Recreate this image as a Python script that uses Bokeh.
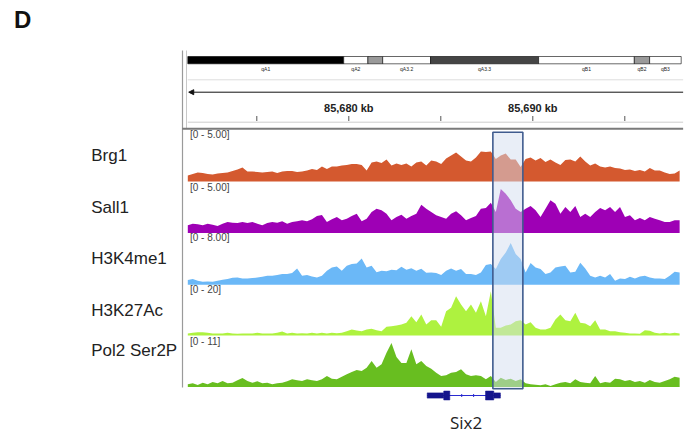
import numpy as np
from bokeh.plotting import figure
from bokeh.models import Range1d, Arrow, NormalHead
from bokeh.embed import file_html
from bokeh.resources import INLINE
from bokeh.core.properties import value

# ---------------- data ----------------
PANEL_LABEL = "D"
REGION_START = 85671.25          # kb, left edge of the data panel
REGION_END = 85698.07            # kb, right edge of the data panel
BIN_START = 85671.25
BIN_STEP = 0.27                  # kb per bin

track_names = ["Brg1", "Sall1", "H3K4me1", "H3K27Ac", "Pol2 Ser2P"]
track_max = [5.0, 5.0, 8.0, 20.0, 11.0]
track_colors = ["#D4592F", "#9E00B5", "#6BB8F7", "#AEF23F", "#68BE20"]

brg1 = [0.6, 0.75, 0.9, 0.85, 0.75, 0.7, 0.8, 0.85, 0.9, 1.05, 1.2, 1.4, 1.0, 1.0, 0.95, 0.9, 0.95, 1.0, 0.85, 1.0,
        1.05, 1.05, 0.95, 1.0, 1.1, 1.25, 1.15, 1.5, 1.25, 1.5, 1.5, 1.6, 1.65, 1.75, 1.75, 1.65, 1.1, 1.9, 2.0, 1.85,
        2.2, 1.6, 1.8, 1.65, 1.8, 1.5, 1.9, 2.0, 1.6, 2.1,
        2.0, 1.75, 2.3, 2.6, 2.9, 2.5, 2.1, 2.0, 2.4, 3.0, 2.95, 3.0, 2.25, 2.6, 2.8, 2.2, 2.2, 1.45, 2.25, 2.4,
        2.1, 2.35, 1.95, 2.2, 1.9, 1.65, 2.15, 2.2, 2.0, 2.5, 2.0, 1.6, 1.8, 1.5, 1.4, 1.5, 1.35, 1.3, 1.15, 1.2,
        1.05, 1.15, 1.0, 1.35, 1.1, 1.1, 0.9, 0.75, 0.8, 1.1]

sall1 = [0.77, 0.93, 0.87, 0.77, 0.93, 0.83, 0.7, 0.93, 1.1, 1.03, 1.0, 1.1, 1.0, 1.1, 0.93, 0.77, 1.0, 1.1, 1.03, 1.17,
         0.93, 1.1, 1.17, 1.27, 1.17, 1.37, 1.7, 1.8, 1.1, 1.37, 1.6, 1.27, 1.43, 1.7, 1.93, 1.17, 1.43, 2.1, 2.43, 2.27,
         1.93, 1.27, 1.6, 1.83, 1.43, 1.7, 1.93, 2.83, 2.43, 2.1,
         1.77, 1.6, 1.43, 1.93, 2.17, 1.77, 1.27, 1.5, 1.7, 2.43, 2.5, 3.03, 2.1, 4.4, 3.93, 3.27, 2.43, 2.1, 2.43, 2.7,
         2.27, 1.6, 2.43, 3.27, 2.93, 1.93, 2.6, 2.1, 2.7, 1.6, 1.93, 1.6, 2.1, 2.5, 2.27, 2.6, 2.1, 2.6, 1.6, 1.77,
         1.27, 1.5, 1.27, 1.6, 1.43, 1.27, 1.1, 1.1, 1.27, 1.27]

h3k4me1 = [0.75, 0.91, 0.64, 0.48, 0.53, 0.48, 0.64, 0.8, 0.91, 1.12, 1.17, 1.01, 1.01, 1.07, 1.17, 1.28, 1.44, 1.44, 1.55, 1.71,
           1.71, 1.87, 2.61, 1.44, 1.55, 1.33, 1.17, 1.44, 2.24, 2.77, 2.93, 2.24, 3.04, 3.31, 3.4, 4.2, 2.77, 3.04, 2.0, 2.24,
           2.16, 2.4, 2.32, 2.88, 2.4, 2.64, 2.24, 2.56, 1.92, 1.97,
           1.87, 1.55, 2.24, 2.61, 2.24, 2.51, 1.71, 1.71, 1.55, 1.97, 3.15, 3.31, 2.51, 4.11, 5.17, 6.67, 4.91, 4.11, 1.97, 3.47,
           2.77, 2.51, 1.71, 1.97, 2.77, 2.93, 3.04, 1.97, 2.08, 3.52, 2.61, 1.44, 1.17, 1.44, 1.17, 1.71, 0.64, 1.01, 0.91, 1.28,
           1.01, 1.33, 1.44, 1.17, 1.01, 1.01, 0.91, 1.44, 2.08, 1.97]

h3k27ac = [0.8, 1.08, 1.32, 1.32, 1.08, 0.8, 0.8, 0.8, 1.08, 0.8, 0.68, 0.8, 0.8, 0.8, 1.08, 0.8, 0.8, 0.8, 1.08, 1.6,
           0.8, 1.08, 0.8, 0.92, 0.8, 1.08, 0.8, 1.08, 0.8, 1.08, 0.92, 1.08, 1.72, 2.4, 2.0, 1.72, 2.4, 2.68, 2.12, 1.72,
           3.48, 3.72, 4.0, 4.4, 5.08, 7.72, 5.32, 8.4, 4.4, 6.12,
           6.12, 3.48, 9.72, 11.08, 15.72, 12.4, 9.72, 12.4, 9.08, 13.72, 7.72, 17.72, 3.08, 3.08, 4.0, 4.4, 5.72, 6.12, 4.4, 5.32,
           3.08, 2.4, 2.4, 3.08, 6.4, 8.4, 6.12, 5.72, 9.08, 5.08, 4.8, 3.72, 6.12, 2.4, 2.4, 1.72, 1.72, 1.32, 1.08, 0.8,
           0.8, 0.68, 2.12, 1.88, 1.08, 0.8, 1.08, 0.8, 1.08, 0.8]

pol2_ser2p = [0.59, 0.81, 0.44, 0.95, 0.59, 1.1, 0.81, 1.32, 0.81, 0.95, 1.47, 1.98, 1.32, 0.95, 1.25, 0.81, 0.95, 0.59, 0.81, 0.95,
              1.25, 1.69, 1.47, 1.32, 1.69, 1.47, 1.32, 1.69, 2.42, 1.83, 1.69, 2.27, 2.79, 3.3, 3.74, 3.52, 4.25, 5.72, 4.25, 4.99,
              7.55, 9.68, 6.6, 5.28, 5.28, 8.29, 4.99, 5.72, 4.62, 4.0,
              3.15, 2.42, 2.57, 3.15, 3.3, 3.89, 2.79, 2.42, 2.57, 2.42, 1.69, 2.42, 1.1, 2.05, 1.54, 1.83, 1.32, 1.69, 0.81, 0.59,
              0.51, 0.37, 0.59, 0.22, 0.59, 0.95, 1.1, 0.81, 1.69, 1.1, 0.95, 0.81, 2.42, 0.81, 1.1, 0.95, 1.83, 1.69, 1.32, 1.54,
              1.1, 1.32, 0.95, 1.54, 1.1, 0.95, 1.32, 1.69, 2.27, 2.05]

track_values = [brg1, sall1, h3k4me1, h3k27ac, pol2_ser2p]

ruler_ticks = [85675, 85680, 85685, 85690, 85695]   # kb
ruler_labels = [85680, 85690]                       # kb

highlight_start, highlight_end = 85687.83, 85689.46  # kb

gene_name = "Six2"
gene_start, gene_end = 85684.26, 85688.24
utr_starts = [85684.26, 85687.88]
utr_ends = [85685.16, 85688.24]
cds_starts = [85685.16, 85687.43]
cds_ends = [85685.49, 85687.88]

# chromosome ideogram (percent of the displayed band strip)
band_names = ["qA1", "qA2", "", "qA3.2", "qA3.3", "qB1", "qB2", "qB3"]
band_starts = [0.0, 31.6, 36.5, 39.5, 49.2, 71.1, 90.5, 93.6]
band_ends = [31.6, 36.5, 39.5, 49.2, 71.1, 90.5, 93.6, 100.0]
band_colors = ["#000000", "#ffffff", "#9a9a9a", "#ffffff", "#454545", "#ffffff", "#9a9a9a", "#ffffff"]

# ---------------- layout (picture pixels) ----------------
W, H = 688, 436
OFF = 0                      # canvas origin in the picture
PX_PER_KB = 18.4
KB_AT = (85680, 348.3)       # kb value and its picture x
PANEL_L, PANEL_R = 187.3, 680.7
TRACK_BASE = [181.0, 232.5, 284.3, 335.0, 386.5]
TRACK_H = 50.0
LABEL_MID = [155.3, 206.7, 258.3, 310.0, 350.0]
RANGE_TOP = [128.2, 181.2, 231.8, 283.8, 335.6]

x0 = KB_AT[0] - (KB_AT[1] - OFF) / PX_PER_KB
p = figure(width=W, height=H, title=None,
           x_range=Range1d(x0, x0 + W / PX_PER_KB),
           y_range=Range1d(OFF + H, OFF),
           output_backend="svg", toolbar_location=None,
           x_axis_location=None, y_axis_location=None,
           min_border=0, outline_line_color=None)
p.background_fill_color = "white"
p.border_fill_color = "white"
p.xgrid.visible = False
p.ygrid.visible = False

p.extra_x_ranges = {
    "px": Range1d(OFF, OFF + W),
    "ideo": Range1d((OFF - PANEL_L) / (PANEL_R - PANEL_L) * 100,
                    (OFF + W - PANEL_L) / (PANEL_R - PANEL_L) * 100),
}
for i, (b, m) in enumerate(zip(TRACK_BASE, track_max)):
    p.extra_y_ranges[f"t{i}"] = Range1d((b - (OFF + H)) * m / TRACK_H, (b - OFF) * m / TRACK_H)

# panel letter
p.text(x=[13.5], y=[19.0], text=[PANEL_LABEL], x_range_name="px",
       text_font=value("Liberation Sans"), text_font_style="bold",
       text_font_size="24px", text_color="#111111", text_baseline="middle")

# left border lines
p.segment(x0=[182.0], x1=[182.0], y0=[50], y1=[387], x_range_name="px",
          line_color="#9a9a9a", line_width=1.2)
p.segment(x0=[186.0], x1=[186.0], y0=[50], y1=[128], x_range_name="px",
          line_color="#c8c8c8", line_width=1)

# ideogram
p.quad(left=band_starts, right=band_ends, top=[56.0] * len(band_starts), bottom=[63.3] * len(band_starts),
       x_range_name="ideo", fill_color=band_colors, line_color="#000000", line_width=0.6)
mids = [(a + b) / 2 for a, b in zip(band_starts, band_ends)]
p.text(x=mids, y=[68.0] * len(mids), text=band_names, x_range_name="ideo",
       text_font=value("Liberation Sans"), text_font_size="5px", text_color="#222222",
       text_align="center", text_baseline="middle")

# ruler
RIGHT = REGION_END + 0.1
p.segment(x0=[REGION_START], x1=[RIGHT], y0=[79.3], y1=[79.3], line_color="#dddddd", line_width=1)
p.add_layout(Arrow(end=NormalHead(size=5, fill_color="#111111", line_color="#111111"),
                   x_start=RIGHT, y_start=91.7, x_end=REGION_START + 0.05, y_end=91.7,
                   line_color="#111111", line_width=1))
p.text(x=ruler_labels, y=[107.7] * len(ruler_labels), text=[f"{v:,} kb" for v in ruler_labels],
       text_font=value("Liberation Sans"), text_font_style="bold", text_font_size="11px",
       text_color="#222222", text_align="center", text_baseline="middle")
p.segment(x0=ruler_ticks, x1=ruler_ticks, y0=[115.5] * len(ruler_ticks), y1=[120.5] * len(ruler_ticks),
          line_color="#555555", line_width=1)
p.segment(x0=[REGION_START], x1=[RIGHT], y0=[121.7], y1=[121.7], line_color="#cccccc", line_width=1)
p.segment(x0=[REGION_START - 0.3], x1=[RIGHT], y0=[128.3], y1=[128.3], line_color="#7a7a7a", line_width=2)

# tracks
xs = [BIN_START + BIN_STEP * i for i in range(len(brg1))]
for i, (vals, col) in enumerate(zip(track_values, track_colors)):
    p.varea(x=xs, y1=[0] * len(xs), y2=vals, y_range_name=f"t{i}", fill_color=col)

# data-range labels
p.text(x=[189.5] * 5, y=RANGE_TOP, text=[f"[0 - {m:.2f}]" if m < 10 else f"[0 - {m:.0f}]" for m in track_max],
       x_range_name="px", text_font=value("Liberation Sans"), text_font_size="10px",
       text_color="#444444", text_baseline="top")

# track names
p.text(x=[90.7] * 5, y=LABEL_MID, text=track_names, x_range_name="px",
       text_font=value("Liberation Sans"), text_font_size="17px", text_color="#222222",
       text_baseline="middle")

# highlight region
p.quad(left=[highlight_start], right=[highlight_end], top=[131.7], bottom=[388.3],
       fill_color="#d3deef", fill_alpha=0.5, line_color="#3f5b8e", line_width=1.6)

# gene model
GY = 395.0
p.segment(x0=[gene_start], x1=[gene_end], y0=[GY], y1=[GY], line_color="#2a2ad0", line_width=1)
p.quad(left=utr_starts, right=utr_ends, top=[GY - 2.6] * 2, bottom=[GY + 2.6] * 2,
       fill_color="#14148c", line_color="#14148c", line_width=0.5)
p.quad(left=cds_starts, right=cds_ends, top=[GY - 4.5] * 2, bottom=[GY + 4.5] * 2,
       fill_color="#14148c", line_color="#14148c", line_width=0.5)
intr_a, intr_b = cds_ends[0], cds_starts[1]
p.scatter(x=[intr_a + (intr_b - intr_a) / 3, intr_a + 2 * (intr_b - intr_a) / 3], y=[GY, GY],
          marker="dash", angle=np.pi / 2, size=3, line_color="#2a2ad0", line_width=1)
p.text(x=[(gene_start + gene_end) / 2 + 0.12], y=[421.7], text=[gene_name],
       text_font=value("Open Sans"), text_font_size="17px", text_color="#222222",
       text_align="center", text_baseline="middle")

open("out.html", "w").write(file_html(p, INLINE))
